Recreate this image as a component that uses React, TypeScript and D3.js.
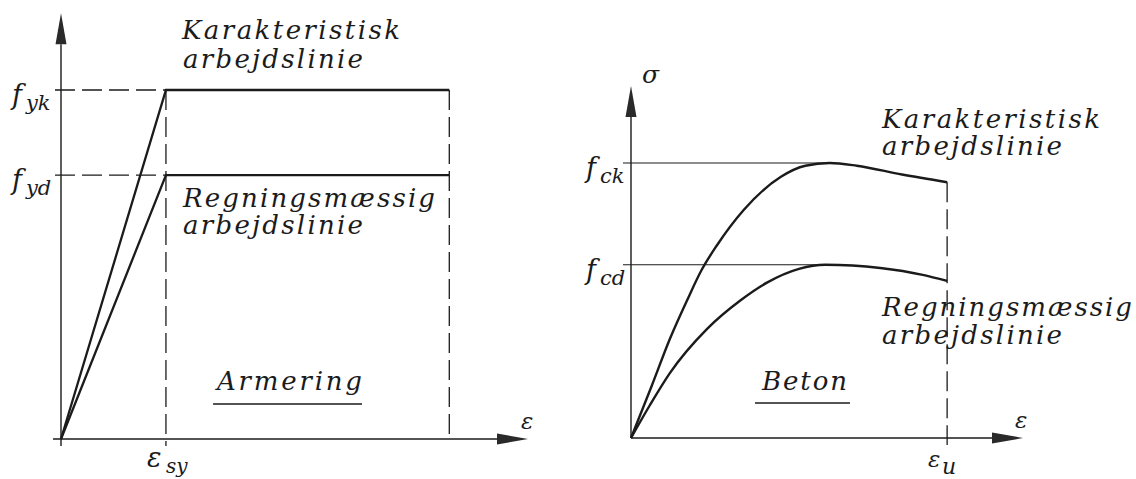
import React from "react";
import * as d3 from "d3";

// ---------- Armering (reinforcing steel) ----------
// strain expressed relative to the yield strain ε_sy, stress relative to f_yk
const steelYieldStrain = 1.0;
const steelEndStrain = 3.7;
const steelAxisStrain = 4.45;
const steelAxisStress = 1.22;
const steelFyk = 1.0;
const steelFyd = 0.756;
const steelCharacteristic: [number, number][] = [
  [0, 0],
  [1.0, 1.0],
  [3.7, 1.0],
];
const steelDesign: [number, number][] = [
  [0, 0],
  [1.0, 0.756],
  [3.7, 0.756],
];

// ---------- Beton (concrete) ----------
// strain in ‰, stress relative to f_ck
const concreteUltStrain = 3.5;
const concreteAxisStrain = 4.34;
const concreteAxisStress = 1.28;
const concreteFck = 1.0;
const concreteFcd = 0.63;
const concreteFckPeakStrain = 2.2;
const concreteFcdPeakStrain = 2.15;
const concreteCharacteristic: [number, number][] = [
  [0, 0],
  [0.23, 0.19],
  [0.43, 0.36],
  [0.62, 0.5],
  [0.78, 0.61],
  [0.95, 0.7],
  [1.25, 0.83],
  [1.66, 0.95],
  [1.93, 0.99],
  [2.2, 1.0],
  [2.5, 0.99],
  [3.0, 0.958],
  [3.5, 0.93],
];
const concreteDesign: [number, number][] = [
  [0, 0],
  [0.21, 0.12],
  [0.43, 0.236],
  [0.84, 0.396],
  [1.21, 0.5],
  [1.5, 0.564],
  [1.86, 0.615],
  [2.15, 0.63],
  [2.76, 0.618],
  [3.23, 0.593],
  [3.5, 0.571],
];

const curveTitles = ["Karakteristisk", "arbejdslinie", "Regningsmæssig", "arbejdslinie"];
const panelTitles = ["Armering", "Beton"];

const INK = "#1b1b1b";
const FONT = "DejaVu Serif";
const DASH = "20 7";

function Label({ x, y, size = 26, width, children }: any) {
  return (
    <text
      x={x}
      y={y}
      fontFamily={FONT}
      fontStyle="italic"
      fontSize={size}
      fill={INK}
      textLength={width}
      lengthAdjust={width ? "spacing" : undefined}
    >
      {children}
    </text>
  );
}

export default function App() {
  // steel panel scales
  const sx = d3.scaleLinear().domain([0, steelAxisStrain]).range([61, 528]);
  const sy = d3.scaleLinear().domain([0, steelAxisStress]).range([439, 439 - steelAxisStress * 349]);
  // concrete panel scales
  const cx = d3.scaleLinear().domain([0, concreteAxisStrain]).range([631, 1023]);
  const cy = d3.scaleLinear().domain([0, concreteAxisStress]).range([438, 438 - concreteAxisStress * 275]);

  const steelLine = d3
    .line<[number, number]>()
    .x((d) => sx(d[0]))
    .y((d) => sy(d[1]));
  const concreteLine = d3
    .line<[number, number]>()
    .x((d) => cx(d[0]))
    .y((d) => cy(d[1]))
    .curve(d3.curveMonotoneX);

  const s0x = sx(0), s0y = sy(0);
  const c0x = cx(0), c0y = cy(0);
  const sTopY = sy(steelAxisStress), sEndX = sx(steelAxisStrain);
  const cTopY = cy(concreteAxisStress), cEndX = cx(concreteAxisStrain);
  const ah = 31, aw = 5.5;

  return (
    <svg
      width={1136}
      height={479}
      viewBox="0 0 1136 479"
      style={{ position: "absolute", left: 0, top: 0, background: "#fff" }}
    >
      <rect width={1136} height={479} fill="#fff" />

      {/* ===== Armering ===== */}
      <g stroke={INK} fill="none">
        {/* axes */}
        <line x1={s0x} y1={s0y + 7} x2={s0x} y2={sTopY + ah} strokeWidth={1.4} />
        <line x1={s0x - 8} y1={s0y} x2={sEndX - ah} y2={s0y} strokeWidth={1.4} />
        {/* reference dashes */}
        <line x1={s0x - 6} y1={sy(steelFyk)} x2={sx(steelYieldStrain)} y2={sy(steelFyk)} strokeWidth={1.3} strokeDasharray={DASH} />
        <line x1={s0x - 6} y1={sy(steelFyd)} x2={sx(steelYieldStrain)} y2={sy(steelFyd)} strokeWidth={1.3} strokeDasharray={DASH} />
        <line x1={sx(steelYieldStrain)} y1={sy(steelFyk)} x2={sx(steelYieldStrain)} y2={s0y + 7} strokeWidth={1.3} strokeDasharray={DASH} />
        <line x1={sx(steelEndStrain)} y1={sy(steelFyk)} x2={sx(steelEndStrain)} y2={s0y} strokeWidth={1.3} strokeDasharray={DASH} />
        {/* stress-strain lines */}
        <path d={steelLine(steelCharacteristic) || ""} strokeWidth={2.3} strokeLinejoin="miter" />
        <path d={steelLine(steelDesign) || ""} strokeWidth={2.3} strokeLinejoin="miter" />
        {/* title underline */}
        <line x1={213} y1={404} x2={362} y2={404} strokeWidth={1.4} />
      </g>
      <path d={`M${s0x},${sTopY} L${s0x - aw},${sTopY + ah} L${s0x + aw},${sTopY + ah} Z`} fill="#2a2a2a" />
      <path d={`M${sEndX},${s0y} L${sEndX - ah},${s0y - aw} L${sEndX - ah},${s0y + aw} Z`} fill="#2a2a2a" />

      <Label x={182} y={39} width={218}>{curveTitles[0]}</Label>
      <Label x={183} y={68} width={180}>{curveTitles[1]}</Label>
      <Label x={183} y={207} width={252}>{curveTitles[2]}</Label>
      <Label x={183} y={234} width={180}>{curveTitles[3]}</Label>
      <Label x={217} y={390} width={145}>{panelTitles[0]}</Label>

      <Label x={12} y={sy(steelFyk) + 14} size={27}>f</Label>
      <Label x={26} y={sy(steelFyk) + 20} size={21}>yk</Label>
      <Label x={12} y={sy(steelFyd) + 14} size={27}>f</Label>
      <Label x={26} y={sy(steelFyd) + 20} size={21}>yd</Label>
      <Label x={147} y={467} size={27}>ε</Label>
      <Label x={166} y={473} size={20}>sy</Label>
      <Label x={521} y={429} size={23}>ε</Label>

      {/* ===== Beton ===== */}
      <g stroke={INK} fill="none">
        <line x1={c0x} y1={c0y} x2={c0x} y2={cTopY + ah} strokeWidth={1.4} />
        <line x1={c0x} y1={c0y} x2={cEndX - ah} y2={c0y} strokeWidth={1.4} />
        <line x1={c0x - 8} y1={cy(concreteFck)} x2={cx(concreteFckPeakStrain)} y2={cy(concreteFck)} strokeWidth={1.2} />
        <line x1={c0x - 8} y1={cy(concreteFcd)} x2={cx(concreteFcdPeakStrain)} y2={cy(concreteFcd)} strokeWidth={1.2} />
        <line
          x1={cx(concreteUltStrain)}
          y1={cy(concreteCharacteristic[concreteCharacteristic.length - 1][1])}
          x2={cx(concreteUltStrain)}
          y2={c0y + 7}
          strokeWidth={1.3}
          strokeDasharray={DASH}
        />
        <path d={concreteLine(concreteCharacteristic) || ""} strokeWidth={2.4} />
        <path d={concreteLine(concreteDesign) || ""} strokeWidth={2.4} />
        <line x1={755} y1={403} x2={850} y2={403} strokeWidth={1.4} />
      </g>
      <path d={`M${c0x},${cTopY} L${c0x - aw},${cTopY + ah} L${c0x + aw},${cTopY + ah} Z`} fill="#2a2a2a" />
      <path d={`M${cEndX},${c0y} L${cEndX - ah},${c0y - aw} L${cEndX - ah},${c0y + aw} Z`} fill="#2a2a2a" />

      <Label x={882} y={128} width={218}>{curveTitles[0]}</Label>
      <Label x={882} y={155} width={180}>{curveTitles[1]}</Label>
      <Label x={882} y={316} width={250}>{curveTitles[2]}</Label>
      <Label x={882} y={344} width={180}>{curveTitles[3]}</Label>
      <Label x={762} y={390} width={85}>{panelTitles[1]}</Label>

      <Label x={642} y={83} size={25}>σ</Label>
      <Label x={586} y={cy(concreteFck) + 14} size={27}>f</Label>
      <Label x={600} y={cy(concreteFck) + 20} size={21}>ck</Label>
      <Label x={586} y={cy(concreteFcd) + 14} size={27}>f</Label>
      <Label x={600} y={cy(concreteFcd) + 20} size={21}>cd</Label>
      <Label x={1015} y={428} size={23}>ε</Label>
      <Label x={928} y={467} size={23}>ε</Label>
      <Label x={942} y={474} size={22}>u</Label>
    </svg>
  );
}
